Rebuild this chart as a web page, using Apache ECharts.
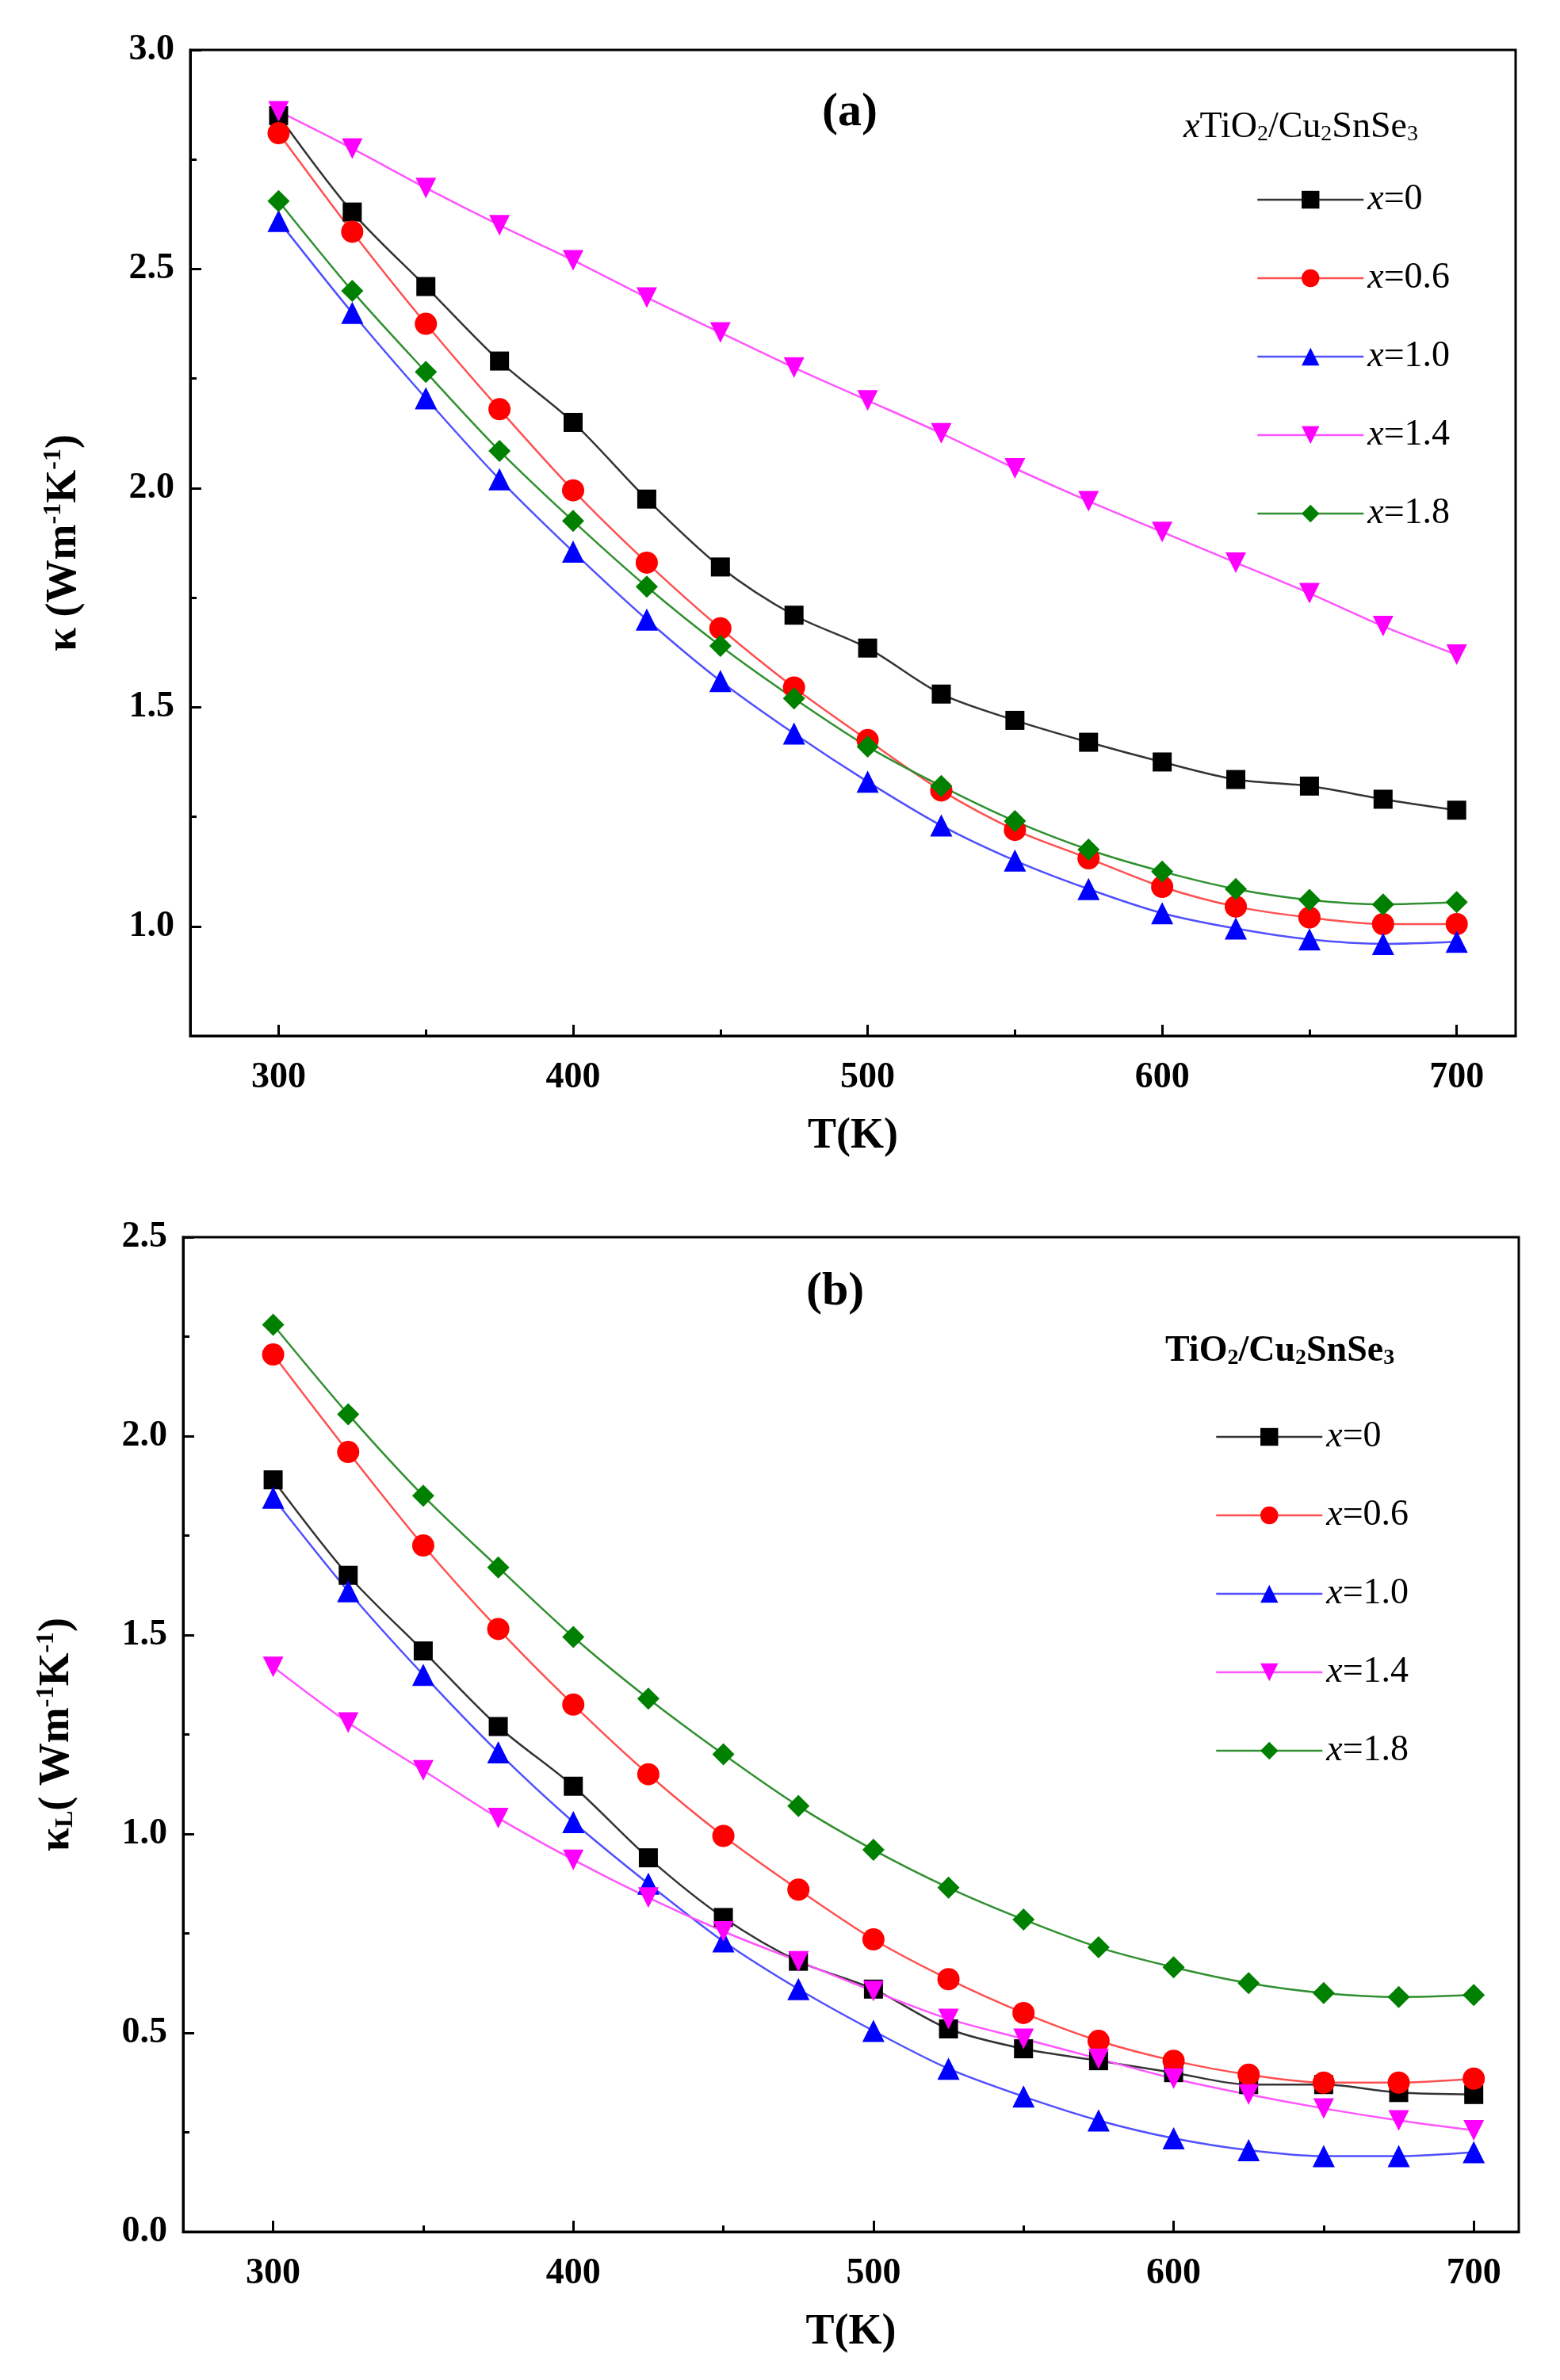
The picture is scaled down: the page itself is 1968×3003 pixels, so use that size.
<!DOCTYPE html>
<html><head><meta charset="utf-8">
<script src="https://cdn.jsdelivr.net/npm/echarts@6/dist/echarts.min.js"></script>
<style>html,body{margin:0;padding:0;background:#fff}#c{width:1968px;height:3003px}</style>
</head><body><div id="c"></div>
<script>
const T = [300,325,350,375,400,425,450,475,500,525,550,575,600,625,650,675,700];
const names = ['0','0.6','1.0','1.4','1.8'];
const colors = ['#000000','#ff0000','#0000ff','#ff00ff','#008000'];
const lineColors = ['#333333','#ff5050','#5050ff','#ff55ff','#309030'];
const symbols = ['rect','circle','triangle','path://M0,0L10,0L5,10Z','diamond'];
const kA = [
 [2.85,2.63,2.46,2.29,2.15,1.975,1.82,1.71,1.635,1.53,1.47,1.42,1.375,1.335,1.32,1.29,1.265],
 [2.81,2.585,2.375,2.18,1.995,1.83,1.68,1.545,1.425,1.31,1.22,1.155,1.09,1.045,1.02,1.005,1.005],
 [2.61,2.40,2.205,2.02,1.855,1.70,1.56,1.44,1.33,1.23,1.15,1.085,1.03,0.995,0.97,0.96,0.965],
 [2.86,2.775,2.685,2.60,2.52,2.435,2.355,2.275,2.20,2.125,2.045,1.97,1.90,1.83,1.76,1.685,1.62],
 [2.655,2.45,2.265,2.085,1.925,1.775,1.64,1.52,1.41,1.32,1.24,1.175,1.125,1.085,1.06,1.05,1.055]
];
const kB = [
 [1.89,1.65,1.46,1.27,1.12,0.94,0.79,0.68,0.61,0.51,0.46,0.43,0.40,0.37,0.37,0.35,0.345],
 [2.205,1.96,1.725,1.515,1.325,1.15,0.995,0.86,0.735,0.635,0.55,0.48,0.43,0.395,0.375,0.375,0.385],
 [1.845,1.61,1.40,1.205,1.03,0.875,0.73,0.61,0.505,0.41,0.34,0.28,0.235,0.205,0.19,0.19,0.20],
 [1.42,1.28,1.16,1.04,0.935,0.84,0.755,0.68,0.605,0.535,0.485,0.435,0.385,0.345,0.31,0.28,0.255],
 [2.28,2.055,1.85,1.67,1.495,1.34,1.2,1.07,0.96,0.865,0.785,0.715,0.665,0.625,0.60,0.59,0.595]
];
const yTicksA = [1.0,1.5,2.0,2.5,3.0];
const yMinorA = [0.75,1.25,1.75,2.25,2.75];
const yTicksB = [0.0,0.5,1.0,1.5,2.0,2.5];
const yMinorB = [0.25,0.75,1.25,1.75,2.25];
const xTicks = [300,400,500,600,700];
const xMinor = [350,450,550,650];

const F = 'Liberation Serif';
const lab = {fontFamily:F,fontWeight:'bold',fontSize:46,color:'#000'};
function xAxes(gi, max){
  return [
   {type:'value',gridIndex:gi,min:270,max:max,position:'bottom',
    axisLine:{lineStyle:{color:'#000',width:3}},
    axisTick:{inside:true,length:14,lineStyle:{width:3,color:'#000'},customValues:xTicks},
    axisLabel:Object.assign({margin:30,customValues:xTicks},lab),
    splitLine:{show:false},
    name:'T(K)',nameLocation:'middle',nameGap:100,
    nameTextStyle:{fontFamily:F,fontWeight:'bold',fontSize:54,color:'#000'}},
   {type:'value',gridIndex:gi,min:270,max:max,position:'bottom',
    axisLine:{show:false},
    axisTick:{inside:true,length:8,lineStyle:{width:3,color:'#000'},customValues:xMinor},
    axisLabel:{show:false},splitLine:{show:false}}
  ];
}
function yAxes(gi,min,max,ticks,minor,nameRich){
  return [
   {type:'value',gridIndex:gi,min:min,max:max,
    axisLine:{show:true,lineStyle:{color:'#000',width:3}},
    axisTick:{inside:true,length:14,lineStyle:{width:3,color:'#000'},customValues:ticks},
    axisLabel:Object.assign({margin:20,customValues:ticks,formatter:v=>v.toFixed(1)},lab),
    splitLine:{show:false},
    name:nameRich,nameLocation:'middle',nameGap:130,
    nameTextStyle:{rich:{
      b:{fontFamily:F,fontWeight:'bold',fontSize:54,color:'#000'},
      s:{fontFamily:F,fontWeight:'bold',fontSize:32,color:'#000',padding:[0,0,26,0]},
      u:{fontFamily:F,fontWeight:'bold',fontSize:32,color:'#000',padding:[22,0,0,0]}
    }}},
   {type:'value',gridIndex:gi,min:min,max:max,position:'left',
    axisLine:{show:false},
    axisTick:{inside:true,length:8,lineStyle:{width:3,color:'#000'},customValues:minor},
    axisLabel:{show:false},splitLine:{show:false}}
  ];
}
const series=[];
function addSeries(data, gi){
  data.forEach((d,i)=>{
    series.push({type:'line',name:'x='+names[i],xAxisIndex:gi*2,yAxisIndex:gi*2,
      data:T.map((t,j)=>[t,d[j]]),symbol:symbols[i],symbolSize:i===0?24:(i===3?26:28),
      smooth:0.3,
      itemStyle:{color:colors[i]},lineStyle:{color:lineColors[i],width:2.5}});
  });
}
addSeries(kA,0); addSeries(kB,1);
const legendFmt = n => '{i|x}{n|'+n.slice(1)+'}';
const legendRich = {i:{fontFamily:F,fontStyle:'italic',fontSize:46,color:'#000'},n:{fontFamily:F,fontSize:46,color:'#000'}};
const legendData = names.map((n,i)=>({name:'x='+n,itemStyle:{color:colors[i]},lineStyle:{color:lineColors[i],width:2.5}}));
const option={
  animation:false,
  grid:[
   {left:240,top:63,width:1672,height:1244,show:true,borderColor:'#000',borderWidth:3},
   {left:231,top:1561,width:1685,height:1255,show:true,borderColor:'#000',borderWidth:3}
  ],
  xAxis:[...xAxes(0,720),...xAxes(1,715)],
  yAxis:[...yAxes(0,0.75,3.0,yTicksA,yMinorA,'{b|κ (Wm}{s|-1}{b|K}{s|-1}{b|)}'),
         ...yAxes(1,0,2.5,yTicksB,yMinorB,'{b|κ}{u|L}{b|( Wm}{s|-1}{b|K}{s|-1}{b|)}')],
  legend:[
   {left:1580,top:224,orient:'vertical',itemWidth:134,itemHeight:28,itemGap:53,
    data:legendData.slice(),formatter:legendFmt,textStyle:{rich:legendRich},
    selectedMode:false},
   {left:1528,top:1785,orient:'vertical',itemWidth:134,itemHeight:28,itemGap:53,
    data:legendData.slice(),formatter:legendFmt,textStyle:{rich:legendRich},
    selectedMode:false}
  ],
  graphic:[
   {type:'text',left:1037,top:112,style:{text:'(a)',font:'bold 60px "Liberation Serif"',fill:'#000'}},
   {type:'text',left:1017,top:1600,style:{text:'(b)',font:'bold 60px "Liberation Serif"',fill:'#000'}},
   {type:'text',left:1493,top:138,style:{text:'{i|x}{b|TiO}{s|2}{b|/Cu}{s|2}{b|SnSe}{s|3}',rich:{
      i:{fontFamily:F,fontStyle:'italic',fontSize:46,fill:'#000'},
      b:{fontFamily:F,fontSize:46,fill:'#000'},
      s:{fontFamily:F,fontSize:28,fill:'#000',padding:[18,0,0,0]}}}},
   {type:'text',left:1470,top:1682,style:{text:'{b|TiO}{s|2}{b|/Cu}{s|2}{b|SnSe}{s|3}',rich:{
      b:{fontFamily:F,fontWeight:'bold',fontSize:46,fill:'#000'},
      s:{fontFamily:F,fontWeight:'bold',fontSize:28,fill:'#000',padding:[18,0,0,0]}}}}
  ],
  series:series
};
const ch=echarts.init(document.getElementById('c'));
ch.setOption(option);
</script></body></html>
